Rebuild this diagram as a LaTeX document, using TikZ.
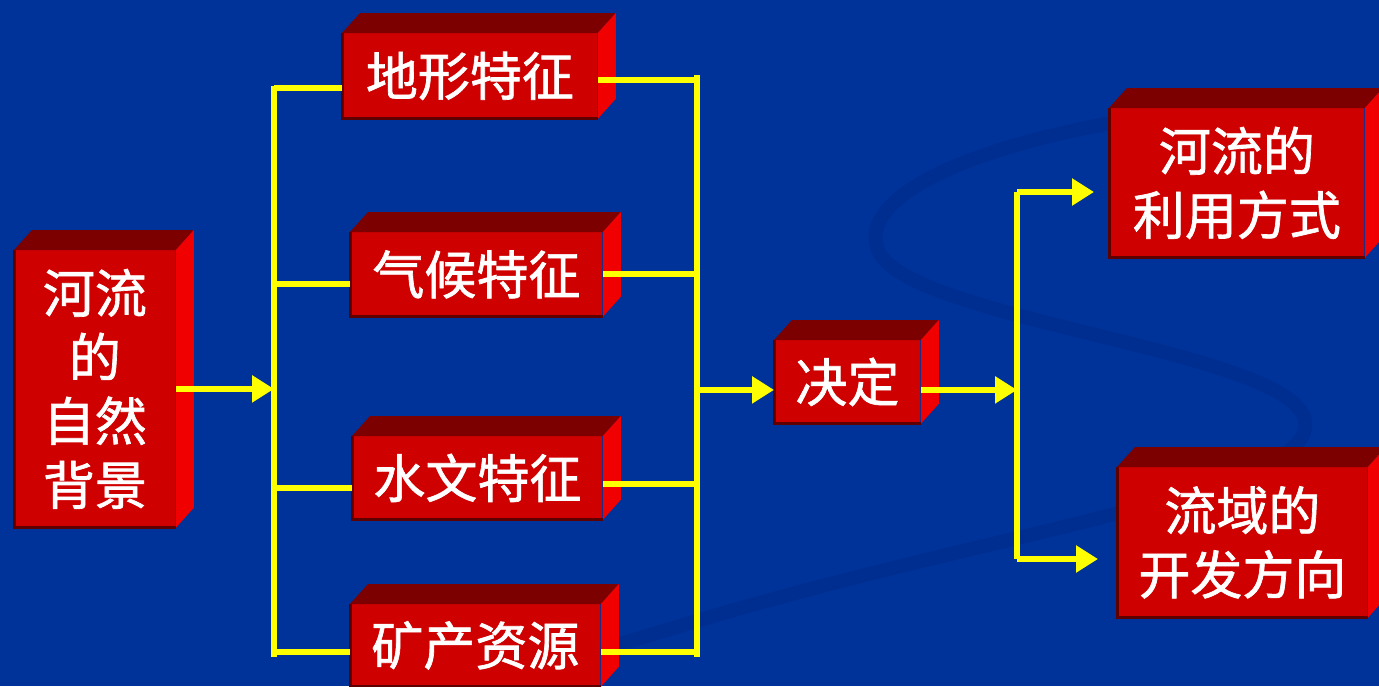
\documentclass[tikz,border=0pt]{standalone}
\usepackage{fontspec}
\newfontfamily\cjk{Noto Sans CJK SC}[FakeBold=1.3]
\usetikzlibrary{arrows.meta}
\definecolor{fundo}{RGB}{0,51,153}
\definecolor{rasto}{RGB}{0,46,144}
\definecolor{frente}{RGB}{206,0,0}
\definecolor{topo}{RGB}{125,0,0}
\definecolor{lado}{RGB}{240,0,0}
\definecolor{borda}{RGB}{95,0,0}
\definecolor{amarelo}{RGB}{255,255,0}

\tikzset{
  bloco/.style={fill=frente, text=white, anchor=north west, inner sep=0pt, align=center,
    font=\cjk\fontsize{26}{32}\selectfont},
  liga/.style={draw=amarelo, line width=3pt},
  seta/.style={liga, -{Triangle[length=11pt,width=13pt]}},
}
% caixa em 3D: nome, x, y, largura, altura, texto
\newcommand\caixa[6]{%
  \node[bloco, minimum width=#4*0.5pt, minimum height=#5*0.5pt] (#1) at (#2,#3) {#6};
  \fill[topo] (#1.north west) -- ++(18,-20) -- ([shift={(18,-20)}]#1.north east) -- (#1.north east) -- cycle;
  \fill[lado] (#1.north east) -- ++(18,-20) -- ([shift={(18,-20)}]#1.south east) -- (#1.south east) -- cycle;
  \draw[borda, line width=1.5pt] (#1.north west) -- (#1.south west) -- (#1.south east);
}

\begin{document}
\begin{tikzpicture}[x=0.5pt, y=-0.5pt]
    % Fundo
    \useasboundingbox (0,0) rectangle (1379,686);
    \fill[fundo] (0,0) rectangle (1379,686);
    \draw[rasto, line width=7pt] (1379,98) .. controls (1060,105) and (850,180) .. (878,250)
        .. controls (905,320) and (1290,350) .. (1305,420)
        .. controls (1320,490) and (1000,530) .. (700,620) .. controls (600,650) .. (480,686);
    % Caixas
    \caixa{rio}{14}{250}{161}{277}{河流\\的\\自然\\背景}
    \caixa{dixing}{342}{33}{255}{85}{地形特征}
    \caixa{qihou}{350}{232}{252}{84}{气候特征}
    \caixa{shuiwen}{352}{436}{250}{83}{水文特征}
    \caixa{kuangchan}{350}{604}{250}{82}{矿产资源}
    \caixa{jueding}{774}{340}{146}{83}{决定}
    \caixa{liyong}{1109}{108}{255}{149}{河流的\\利用方式}
    \caixa{kaifa}{1117}{467}{250}{150}{流域的\\开发方向}
    % Barras
    \coordinate (e1) at (274,86);
    \coordinate (e2) at (274,657);
    \coordinate (s1) at (697,75);
    \coordinate (s2) at (697,657);
    \coordinate (f1) at (1017,192);
    \coordinate (f2) at (1017,559);
    \draw[liga] (e1) -- (e2);
    \draw[liga] (s1) -- (s2);
    \draw[liga] (f1) -- (f2);
    % Ligacoes
    \draw[seta] (rio.east) -- (rio.east -| e1);
    \foreach \n/\a/\b in {dixing/6/2, qihou/5/0, shuiwen/5/3, kuangchan/3.5/3.5} {
        \path ([yshift=-\a pt]\n.west) coordinate (t);
        \draw[liga] (t) -- (t -| e1);
        \path ([yshift=-\b pt]\n.east) coordinate (t);
        \draw[liga] (t) -- (t -| s1);
    }
    \path ([yshift=-4pt]jueding.west) coordinate (t);
    \draw[seta] (t -| s1) -- (t);
    \path ([yshift=-4pt]jueding.east) coordinate (t);
    \draw[seta] (t) -- (t -| f1);
    \draw[seta] (f1) -- ([xshift=-7.5pt]f1 -| liyong.west);
    \draw[seta] (f2) -- ([xshift=-9.5pt]f2 -| kaifa.west);
\end{tikzpicture}
\end{document}
